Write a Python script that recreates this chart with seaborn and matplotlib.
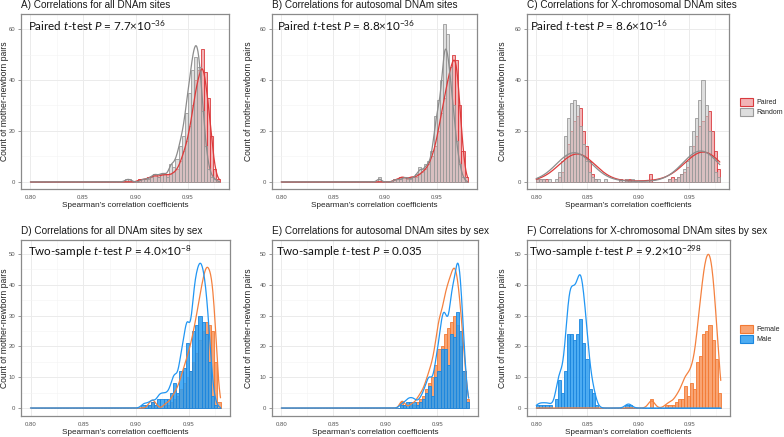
import numpy as np
import matplotlib
matplotlib.use("Agg")
import matplotlib.pyplot as plt
import seaborn as sns
from matplotlib.patches import Patch
from matplotlib.colors import to_rgba
from matplotlib.ticker import FixedLocator

# ---------------- data (bin counts) ----------------
BIN_WIDTH = 0.003
X_LO, X_HI = 0.80, 0.98
NARROW_START = 0.89   # panels A, B, D, E list 30 bins from 0.89 to 0.98
WIDE_START = 0.80     # panels C, F list 60 bins from 0.80 to 0.98

# A) all DNAm sites
a_paired = [0, 0, 0, 0, 1, 1, 1, 2, 2, 3, 2, 3, 3, 3, 3,
            4, 5, 8, 12, 16, 22, 30, 40, 44, 52, 43, 33, 18, 5, 1]
a_random = [1, 1, 0, 0, 0, 1, 1, 1, 2, 3, 2, 3, 3, 2, 7,
            6, 9, 14, 18, 27, 35, 44, 49, 45, 28, 14, 5, 2, 1, 0]
# B) autosomal DNAm sites
b_paired = [0, 0, 0, 0, 0, 0, 1, 1, 2, 2, 1, 2, 2, 2, 3,
            4, 5, 7, 10, 14, 20, 27, 33, 40, 45, 50, 48, 30, 12, 2]
b_random = [0, 2, 0, 0, 0, 0, 1, 1, 1, 2, 2, 1, 2, 3, 6,
            5, 7, 8, 12, 26, 32, 40, 62, 58, 45, 30, 16, 7, 2, 0]
# C) X-chromosomal DNAm sites
c_paired = [1, 1, 1, 1, 0, 0, 0, 2, 4, 10, 15, 20, 24, 26, 29, 20, 14, 8, 3, 1,
            0, 0, 0, 0, 0, 0, 0, 1, 0, 1, 1, 0, 0, 0, 0, 0, 0, 3, 0, 0,
            0, 0, 0, 1, 2, 1, 2, 3, 4, 6, 10, 14, 18, 22, 24, 26, 28, 20, 12, 5]
c_random = [1, 1, 1, 0, 1, 0, 1, 4, 8, 18, 25, 31, 32, 30, 22, 15, 8, 4, 2, 1,
            1, 0, 1, 0, 0, 0, 0, 1, 0, 1, 0, 1, 0, 0, 0, 0, 0, 0, 0, 0,
            0, 0, 0, 1, 0, 1, 2, 3, 5, 8, 14, 20, 25, 32, 40, 30, 20, 10, 4, 2]
# D) all DNAm sites by sex
d_female = [0, 0, 0, 0, 0, 0, 0, 1, 2, 1, 0, 0, 1, 1, 2,
            3, 4, 6, 8, 10, 12, 15, 18, 22, 25, 28, 27, 25, 15, 2]
d_male = [0, 0, 0, 0, 0, 1, 1, 1, 2, 1, 3, 3, 3, 3, 5,
          8, 5, 12, 13, 21, 12, 25, 27, 30, 28, 24, 15, 4, 1, 0]
# E) autosomal DNAm sites by sex
e_female = [0, 0, 0, 0, 0, 0, 0, 0, 2, 1, 0, 1, 1, 2, 3,
            4, 6, 8, 10, 14, 19, 20, 24, 26, 28, 30, 27, 20, 12, 3]
e_male = [0, 0, 0, 0, 0, 0, 0, 0, 1, 1, 2, 2, 2, 1, 2,
          3, 5, 7, 4, 10, 12, 19, 19, 14, 24, 23, 31, 25, 12, 2]
# F) X-chromosomal DNAm sites by sex
f_female = [0, 0, 0, 0, 0, 0, 0, 0, 0, 0, 0, 0, 0, 0, 0, 0, 0, 0, 0, 0,
            0, 0, 0, 0, 0, 0, 0, 0, 0, 0, 0, 0, 0, 0, 0, 0, 0, 3, 0, 0,
            0, 0, 1, 1, 1, 2, 3, 3, 7, 4, 8, 6, 15, 17, 24, 25, 27, 22, 16, 5]
f_male = [1, 1, 1, 1, 1, 0, 3, 9, 5, 12, 24, 24, 22, 24, 29, 21, 16, 6, 5, 1,
          0, 0, 0, 0, 0, 0, 0, 0, 0, 1, 1, 0, 0, 0, 0, 0, 0, 0, 0, 0,
          0, 0, 0, 0, 0, 0, 0, 0, 0, 0, 0, 0, 0, 0, 0, 0, 0, 0, 0, 0]

titles = ["A) Correlations for all DNAm sites",
          "B) Correlations for autosomal DNAm sites",
          "C) Correlations for X-chromosomal DNAm sites",
          "D) Correlations for all DNAm sites by sex",
          "E) Correlations for autosomal DNAm sites by sex",
          "F) Correlations for X-chromosomal DNAm sites by sex"]
tests = [r"Paired $\mathit{t}$-test $\mathit{P}$ = 7.7×10$^{-36}$",
         r"Paired $\mathit{t}$-test $\mathit{P}$ = 8.8×10$^{-36}$",
         r"Paired $\mathit{t}$-test $\mathit{P}$ = 8.6×10$^{-16}$",
         r"Two-sample $\mathit{t}$-test $\mathit{P}$ = 4.0×10$^{-8}$",
         r"Two-sample $\mathit{t}$-test $\mathit{P}$ = 0.035",
         r"Two-sample $\mathit{t}$-test $\mathit{P}$ = 9.2×10$^{-298}$"]
x_ticks = [0.80, 0.85, 0.90, 0.95]
x_tick_labels = ["0.80", "0.85", "0.90", "0.95"]
xlabel = "Spearman’s correlation coefficients"
ylabel = "Count of mother-newborn pairs"
legend_top = ["Paired", "Random"]
legend_bottom = ["Female", "Male"]

# ---------------- style ----------------
sns.set_theme(style="white")
plt.rcParams["font.family"] = ["Liberation Sans", "DejaVu Sans"]
plt.rcParams["mathtext.fontset"] = "custom"
plt.rcParams["mathtext.rm"] = "Lato"
plt.rcParams["mathtext.it"] = "Lato:italic"
plt.rcParams["mathtext.bf"] = "Lato:bold"

STYLE = {
    "Paired": dict(fill="#E9777B", alpha=0.55, edge="#D93A3E", line="#DE3A3A"),
    "Random": dict(fill="#C8C8C8", alpha=0.6, edge="#9A9A9A", line="#8C8C8C"),
    "Female": dict(fill="#F8945A", alpha=0.85, edge="#F27A35", line="#F4813F"),
    "Male": dict(fill="#2E9EF0", alpha=0.85, edge="#1B86DE", line="#2196F3"),
}

W, H = 784, 437
fig = plt.figure(figsize=(W / 100, H / 100), dpi=100)
fig.patch.set_facecolor("white")

edges = np.linspace(X_LO, X_HI, 61)


def expand(counts, start):
    counts = np.asarray(counts)
    centers = start + BIN_WIDTH * (np.arange(len(counts)) + 0.5)
    return np.repeat(centers, counts)


def rect(l, t, r, b):
    return [l / W, 1 - b / H, (r - l) / W, (b - t) / H]


# density curves are shown on their own (hidden) axis, stretched per series
panels = [
    dict(box=(21, 14, 229, 189), series=[("Paired", a_paired, NARROW_START), ("Random", a_random, NARROW_START)],
         row=0, bw=0.6, curve_stretch=(1.0, 1.12), ann_x=28, ylab_off=12),
    dict(box=(272, 14, 477, 189), series=[("Paired", b_paired, NARROW_START), ("Random", b_random, NARROW_START)],
         row=0, bw=0.6, curve_stretch=(1.08, 1.0), ann_x=277, ylab_off=19),
    dict(box=(527, 14, 729, 189), series=[("Paired", c_paired, WIDE_START), ("Random", c_random, WIDE_START)],
         row=0, bw=0.85, curve_stretch=(1.05, 1.05), ann_x=530, ylab_off=20),
    dict(box=(21, 240, 230, 416), series=[("Female", d_female, NARROW_START), ("Male", d_male, NARROW_START)],
         row=1, bw=0.55, curve_stretch=(1.15, 1.22), ann_x=28, ylab_off=12),
    dict(box=(272, 240, 478, 416), series=[("Female", e_female, NARROW_START), ("Male", e_male, NARROW_START)],
         row=1, bw=0.55, curve_stretch=(1.23, 1.14), ann_x=276, ylab_off=19),
    dict(box=(527, 240, 730, 416), series=[("Female", f_female, WIDE_START), ("Male", f_male, WIDE_START)],
         row=1, bw=0.75, curve_stretch=(1.15, 1.07), ann_x=529, ylab_off=20),
]

GRID = "#EBEBEB"
for i, p in enumerate(panels):
    l, t, r, b = p["box"]
    ax = fig.add_axes(rect(l, t, r, b))
    ax.set_facecolor("white")
    ylim = (-2.8, 65.9) if p["row"] == 0 else (-2.6, 54.5)
    datas = [(name, expand(c, s)) for name, c, s in p["series"]]
    for name, d in datas:
        st = STYLE[name]
        sns.histplot(x=d, bins=edges, stat="count", ax=ax,
                     facecolor=to_rgba(st["fill"], st["alpha"]),
                     edgecolor=st["edge"], linewidth=0.6, zorder=2)
    for (name, d), stretch in zip(datas, p["curve_stretch"]):
        st = STYLE[name]
        cax = ax.twinx()
        sns.kdeplot(x=d, ax=cax, color=st["line"], linewidth=0.9,
                    bw_adjust=p["bw"], clip=(X_LO, X_HI), cut=100,
                    gridsize=500)
        cax.set_ylim(ylim[0] / stretch, ylim[1] / stretch)
        cax.set_xlim(0.791, 0.989)
        cax.axis("off")
    ax.set_xlim(0.791, 0.989)
    ax.set_ylim(*ylim)
    if p["row"] == 0:
        ax.yaxis.set_major_locator(FixedLocator([0, 20, 40, 60]))
        ax.yaxis.set_minor_locator(FixedLocator([10, 30, 50]))
    else:
        ax.yaxis.set_major_locator(FixedLocator([0, 10, 20, 30, 40, 50]))
        ax.yaxis.set_minor_locator(FixedLocator([5, 15, 25, 35, 45]))
    ax.xaxis.set_major_locator(FixedLocator(x_ticks))
    ax.set_xticklabels(x_tick_labels)
    ax.xaxis.set_minor_locator(FixedLocator([0.825, 0.875, 0.925, 0.975]))
    ax.grid(True, which="major", color=GRID, linewidth=0.7, zorder=0)
    ax.grid(True, which="minor", color="#F3F3F3", linewidth=0.4, zorder=0)
    ax.set_axisbelow(True)
    for sp in ax.spines.values():
        sp.set_color("#8A8A8A")
        sp.set_linewidth(0.9)
    ax.tick_params(axis="both", which="major", length=2.5, width=0.6, color="#8A8A8A",
                   labelsize=4.3, labelcolor="#555555", pad=1.5)
    ax.tick_params(axis="both", which="minor", length=0)
    ax.set_xlabel(xlabel, fontsize=5.9, color="#222222", labelpad=2)
    ax.set_ylabel(ylabel, fontsize=6.2, color="#222222")
    ax.yaxis.set_label_coords(-p["ylab_off"] / (r - l), 0.5)
    # title and test annotation
    fig.text(l / W, 1 - (t - 9) / H, titles[i], fontsize=7.2, color="#1A1A1A",
             ha="left", va="center")
    fig.text(p["ann_x"] / W, 1 - (t + 11.5) / H, tests[i], fontsize=8.4,
             family="Lato", color="#111111", ha="left", va="center", zorder=10)

# legends
for names, yc in [(legend_top, 107), (legend_bottom, 334)]:
    handles = [Patch(facecolor=to_rgba(STYLE[n]["fill"], STYLE[n]["alpha"]),
                     edgecolor=STYLE[n]["edge"], linewidth=0.8) for n in names]
    fig.legend(handles, names, loc="center left", bbox_to_anchor=(740 / W, 1 - yc / H),
               frameon=False, fontsize=5, handlelength=1.8, handleheight=1.6,
               handletextpad=0.5, labelspacing=0.15, borderpad=0, borderaxespad=0)

fig.savefig("out.png", dpi=100, facecolor="white")
